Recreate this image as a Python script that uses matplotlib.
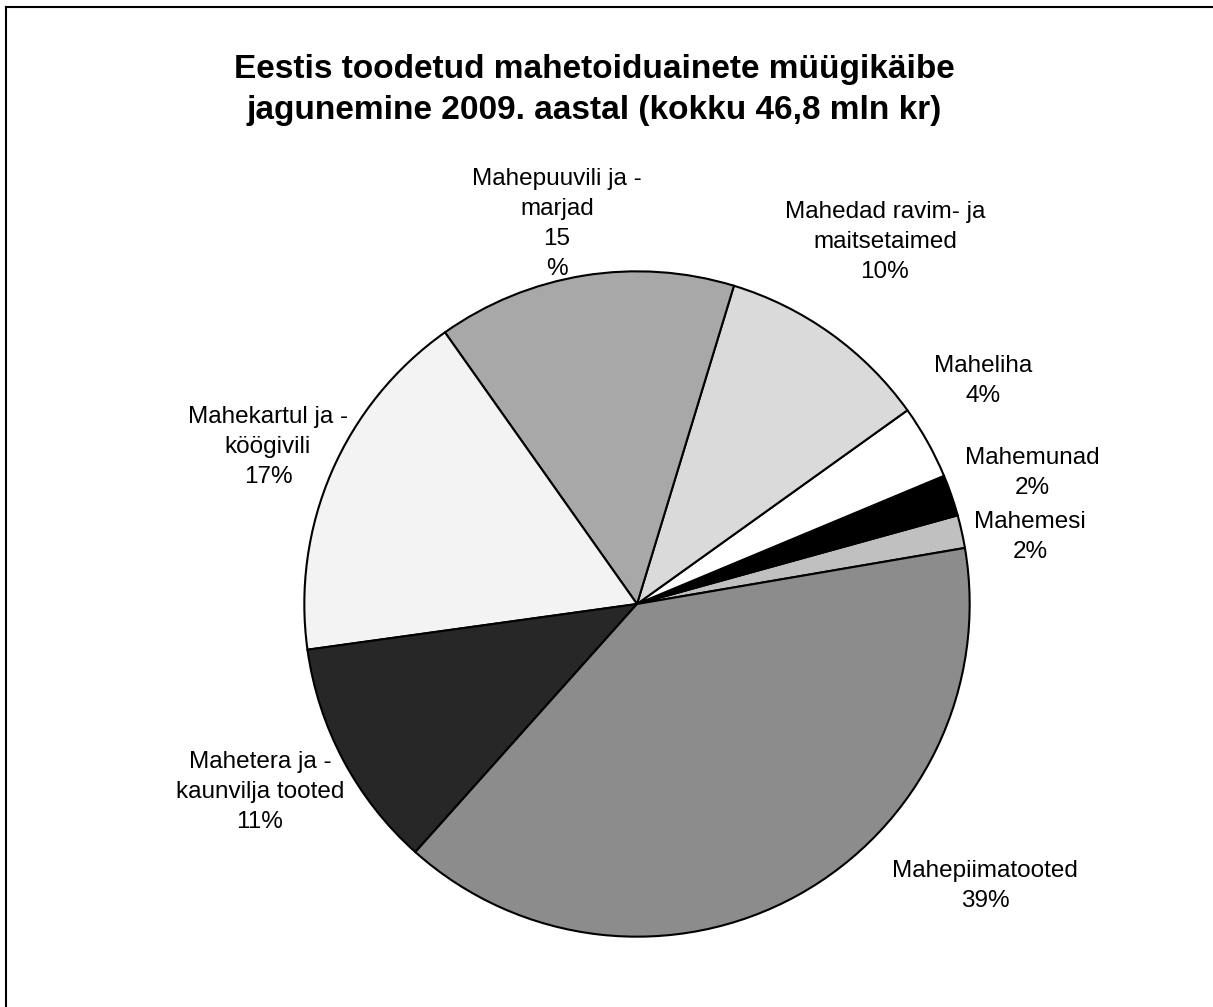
import numpy as np
import matplotlib.pyplot as plt
from matplotlib.lines import Line2D

plt.rcParams['font.family'] = ['Liberation Sans', 'DejaVu Sans']

# slices in counter-clockwise order starting at the right
labels = ['Mahemesi', 'Mahemunad', 'Maheliha', 'Mahedad ravim- ja\nmaitsetaimed',
          'Mahepuuvili ja -\nmarjad', 'Mahekartul ja -\nköögivili',
          'Mahetera ja -\nkaunvilja tooted', 'Mahepiimatooted']
shares = [1.6, 2.0, 3.6, 10.4, 14.5, 17.4, 11.2, 39.3]
pct_text = ['2%', '2%', '4%', '10%', '15\n%', '17%', '11%', '39%']
colors = ['#c0c0c0', '#000000', '#ffffff', '#dadada', '#a8a8a8', '#f3f3f3', '#272727', '#8c8c8c']

# label centres in pixels (layout)
label_px = [(1030, 537), (1032, 473), (983, 381), (885, 242),
            (557, 224), (268, 447), (260, 792), (985, 886)]

W, H = 1213, 1007
fig = plt.figure(figsize=(W / 100, H / 100), dpi=100)

cx, cy, r = 637, 604, 336
ax = fig.add_axes([(cx - r) / W, (H - cy - r) / H, 2 * r / W, 2 * r / H])
ax.pie(shares, colors=colors, startangle=9.7, counterclock=True,
       wedgeprops=dict(edgecolor='black', linewidth=1.5))
ax.set_xlim(-1.01, 1.01)
ax.set_ylim(-1.01, 1.01)
ax.set_aspect('equal')
ax.axis('off')

for lab, p, (px, py) in zip(labels, pct_text, label_px):
    fig.text(px / W, 1 - py / H, lab + '\n' + p, ha='center', va='center',
             fontsize=17.5, linespacing=1.48)

fig.text(594 / W, 1 - 90 / H, 'Eestis toodetud mahetoiduainete müügikäibe\njagunemine 2009. aastal (kokku 46,8 mln kr)',
         ha='center', va='center', fontsize=24, fontweight='bold', linespacing=1.38)

# frame (cut off at right and bottom)
fig.add_artist(Line2D([6 / W, 1], [1 - 7 / H, 1 - 7 / H], color='black', linewidth=1.5,
                      transform=fig.transFigure))
fig.add_artist(Line2D([6 / W, 6 / W], [0, 1 - 7 / H], color='black', linewidth=1.5,
                      transform=fig.transFigure))

plt.savefig('out.png', dpi=100)
